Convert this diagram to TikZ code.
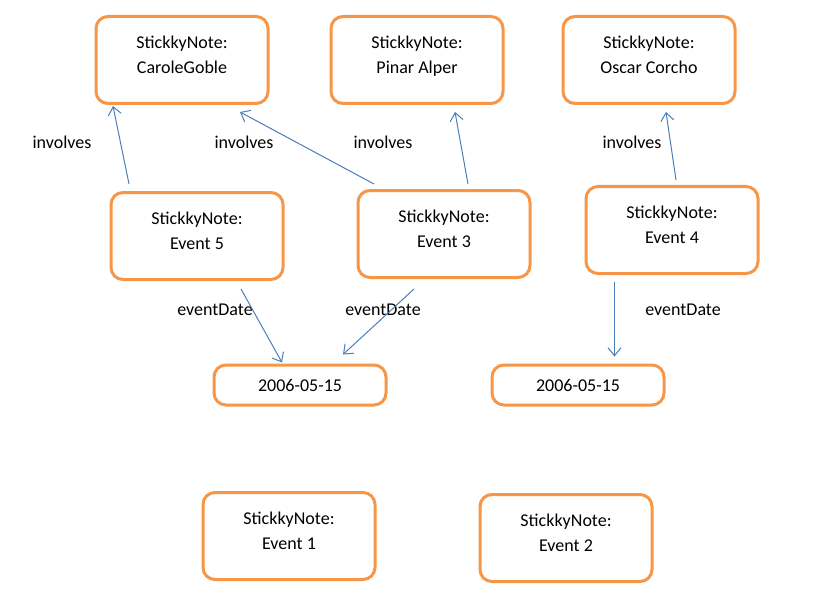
\documentclass[tikz,border=0pt]{standalone}
\usepackage{fontspec}
\setmainfont{Carlito}
\usetikzlibrary{arrows.meta}
\definecolor{noteorange}{HTML}{F79646}
\definecolor{linkblue}{HTML}{4A7EBB}

\begin{document}
\begin{tikzpicture}[x=1pt, y=-1pt,
    font=\fontsize{18}{25}\selectfont,
    main/.style = {draw=noteorange, line width=3pt, rounded corners=12pt, fill=white,
      minimum width=172pt, minimum height=87pt, align=center, inner sep=0pt},
    date/.style = {main, minimum height=40pt},
    link/.style = {draw=linkblue, line width=1pt, -{Straight Barb[length=8pt,width=13pt,line width=1pt]}}]
      \useasboundingbox (0,0) rectangle (821,596);

      \node[main] (1) at (182,60) {StickkyNote:\\CaroleGoble\\[-15pt]\mbox{}};
      \node[main] (2) at (417,60) {StickkyNote:\\Pinar Alper\\[-15pt]\mbox{}};
      \node[main] (3) at (649,60) {StickkyNote:\\Oscar Corcho\\[-15pt]\mbox{}};
      \node[main] (4) at (197,236) {StickkyNote:\\Event 5\\[-15pt]\mbox{}};
      \node[main] (5) at (444,234) {StickkyNote:\\Event 3\\[-15pt]\mbox{}};
      \node[main] (6) at (672,230) {StickkyNote:\\Event 4\\[-15pt]\mbox{}};
      \node[date] (7) at (300,385) {2006-05-15};
      \node[date] (8) at (578,385) {2006-05-15};
      \node[main] (9) at (289,536) {StickkyNote:\\Event 1\\[-15pt]\mbox{}};
      \node[main] (10) at (566,538) {StickkyNote:\\Event 2\\[-15pt]\mbox{}};

      % property names
      \node (i1) at (62,142) {involves};
      \node (i2) at (244,142) {involves};
      \node (i3) at (383,142) {involves};
      \node (i4) at (632,142) {involves};
      \node (d1) at (215,310) {eventDate};
      \node (d2) at (383,310) {eventDate};
      \node (d3) at (683,310) {eventDate};

      \path[every edge/.style={link}]
      ([xshift=-68pt,yshift=7pt]4.north) edge ([xshift=-69pt,yshift=-1pt]1.south)
      ([xshift=-70pt,yshift=5pt]5.north) edge ([xshift=58pt,yshift=-7pt]1.south)
      ([xshift=24pt,yshift=5pt]5.north) edge ([xshift=38pt,yshift=-7pt]2.south)
      ([xshift=4pt,yshift=5pt]6.north) edge ([xshift=17pt,yshift=-7pt]3.south)
      ([xshift=44pt,yshift=-8pt]4.south) edge ([xshift=-18pt,yshift=1pt]7.north)
      ([xshift=-30pt,yshift=-10pt]5.south) edge ([xshift=43pt,yshift=9pt]7.north)
      ([xshift=-57.5pt,yshift=-7pt]6.south) edge ([xshift=36.5pt,yshift=7pt]8.north);
    \end{tikzpicture}
\end{document}
